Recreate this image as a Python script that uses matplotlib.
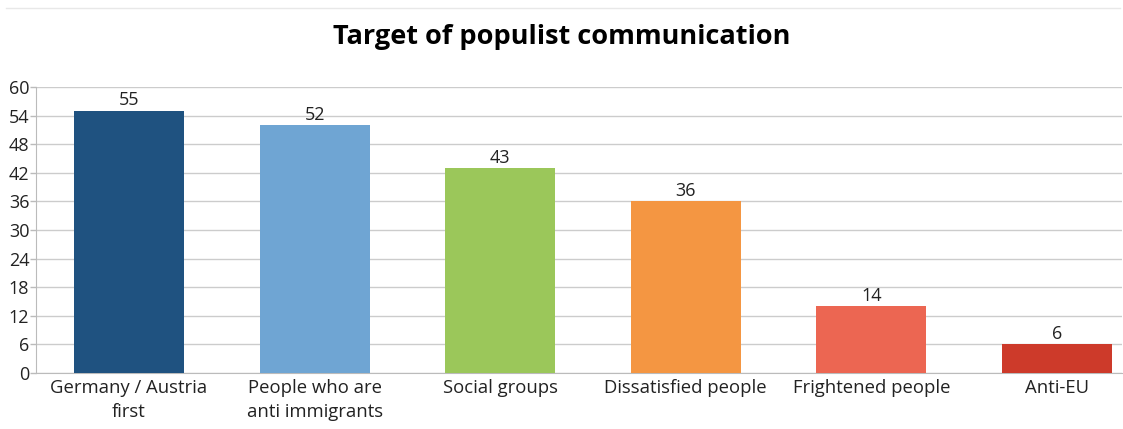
import matplotlib
matplotlib.use("Agg")
import matplotlib.pyplot as plt
from matplotlib.lines import Line2D

categories = ["Germany / Austria\nfirst", "People who are\nanti immigrants", "Social groups",
              "Dissatisfied people", "Frightened people", "Anti-EU"]
values = [55, 52, 43, 36, 14, 6]
colors = ["#1f5280", "#6fa5d3", "#9bc75a", "#f49642", "#ec6652", "#cd3a2a"]
yticks = [0, 6, 12, 18, 24, 30, 36, 42, 48, 54, 60]

plt.rcParams['font.family'] = ['Open Sans', 'DejaVu Sans']

fig = plt.figure(figsize=(11.23, 4.29), dpi=100)
left_px, right_px = 36.2, 1122
ax = fig.add_axes([left_px / 1123, 56 / 429, (right_px - left_px) / 1123, 286 / 429])

x = range(len(categories))
bars = ax.bar(x, values, width=0.593, color=colors, zorder=3)
for xi, v in zip(x, values):
    ax.text(xi, v + 0.3, str(v), ha="center", va="bottom", fontsize=13, color="#222222", zorder=4)

ax.set_xlim(-0.5, (right_px - 129) / 185.6)
ax.set_ylim(0, 60)
ax.set_yticks(yticks)
ax.set_xticks(list(x))
ax.set_xticklabels(categories, fontsize=13.3, color="#222222", linespacing=1.45)
ax.tick_params(axis="y", labelsize=13, colors="#222222", length=4, width=1, color="#bbbbbb", pad=1)
ax.tick_params(axis="x", length=0, pad=4)
for t in ax.get_yticklabels():
    t.set_color("#222222")
ax.grid(axis="y", color="#cccccc", linewidth=1, zorder=0)
for s in ["top", "right"]:
    ax.spines[s].set_visible(False)
ax.spines["left"].set_color("#bbbbbb")
ax.spines["bottom"].set_color("#bbbbbb")

fig.text(0.5, 1 - 37 / 429, "Target of populist communication", ha="center", va="center",
         fontsize=19.5, fontweight="bold", color="#000000")
fig.add_artist(Line2D([0.005, 0.997], [0.981, 0.981], color="#e8e8e8", linewidth=1))

fig.savefig("out.png", dpi=100)
